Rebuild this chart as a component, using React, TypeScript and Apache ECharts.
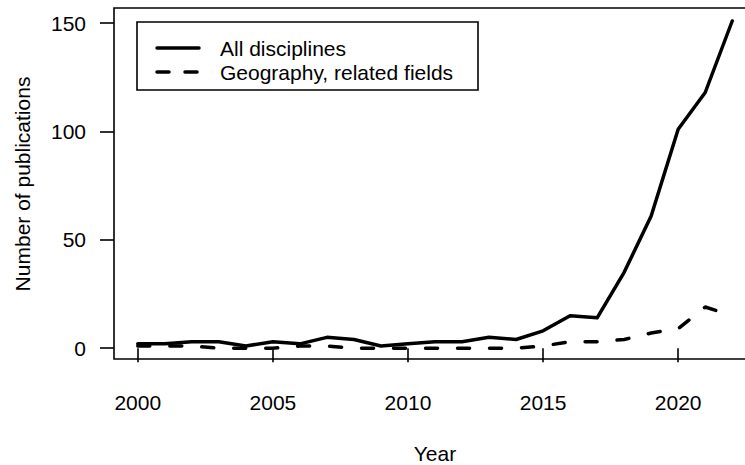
import React, { useEffect, useRef } from "react";
import * as echarts from "echarts";

const years: number[] = [2000, 2001, 2002, 2003, 2004, 2005, 2006, 2007, 2008, 2009, 2010, 2011, 2012, 2013, 2014, 2015, 2016, 2017, 2018, 2019, 2020, 2021, 2022];
const allDisciplines: number[] = [2, 2, 3, 3, 1, 3, 2, 5, 4, 1, 2, 3, 3, 5, 4, 8, 15, 14, 35, 61, 101, 118, 151];
const geography: number[] = [1, 1, 1, 0, 0, 0, 1, 1, 0, 0, 0, 0, 0, 0, 0, 1, 3, 3, 4, 7, 9, 19, 15];
const xTicks: number[] = [2000, 2005, 2010, 2015, 2020];
const yTicks: number[] = [0, 50, 100, 150];
const seriesNames: string[] = ["All disciplines", "Geography, related fields"];
const xTitle = "Year";
const yTitle = "Number of publications";

const FONT = '"Liberation Sans", Arial, Helvetica, sans-serif';
const FS = 21;

export default function App() {
  const ref = useRef<HTMLDivElement>(null);
  useEffect(() => {
    if (!ref.current) return;
    const chart = echarts.init(ref.current, null, { renderer: "svg" });
    const pair = (arr: number[]) => years.map((y, i) => [y, arr[i]]);
    chart.setOption({
      animation: false,
      backgroundColor: "#fff",
      grid: {
        show: true,
        left: 114,
        top: 8,
        width: 642,
        height: 351,
        borderColor: "#000",
        borderWidth: 1.6,
        backgroundColor: "transparent",
      },
      xAxis: {
        type: "value",
        min: 1999.12,
        max: 2022.88,
        axisLine: { show: false },
        splitLine: { show: false },
        axisTick: {
          show: true,
          length: 14,
          customValues: xTicks,
          lineStyle: { color: "#000", width: 1.6 },
        },
        axisLabel: {
          customValues: xTicks,
          margin: 33,
          color: "#000",
          fontSize: FS,
          fontFamily: FONT,
          formatter: (v: number) => String(v),
        },
      },
      yAxis: {
        type: "value",
        min: -5,
        max: 157,
        axisLine: { show: false },
        splitLine: { show: false },
        axisTick: {
          show: true,
          length: 14,
          customValues: yTicks,
          lineStyle: { color: "#000", width: 1.6 },
        },
        axisLabel: {
          customValues: yTicks,
          margin: 28,
          color: "#000",
          fontSize: FS,
          fontFamily: FONT,
          formatter: (v: number) => String(v),
        },
      },
      series: [
        {
          name: seriesNames[0],
          type: "line",
          data: pair(allDisciplines),
          showSymbol: false,
          lineStyle: { color: "#000", width: 3.5, cap: "round", join: "round" },
        },
        {
          name: seriesNames[1],
          type: "line",
          data: pair(geography),
          showSymbol: false,
          lineStyle: { color: "#000", width: 3.5, type: [12, 20], cap: "round", join: "round" },
        },
      ],
      graphic: [
        {
          type: "text",
          x: 435,
          y: 453,
          style: { text: xTitle, font: `${FS}px ${FONT}`, fill: "#000", align: "center", verticalAlign: "middle" },
        },
        {
          type: "text",
          x: 22,
          y: 184,
          rotation: Math.PI / 2,
          style: { text: yTitle, font: `${FS}px ${FONT}`, fill: "#000", align: "center", verticalAlign: "middle" },
        },
        {
          type: "rect",
          shape: { x: 137, y: 22, width: 341, height: 68 },
          style: { fill: "#fff", stroke: "#000", lineWidth: 1.6 },
        },
        {
          type: "line",
          shape: { x1: 157, y1: 48, x2: 199, y2: 48 },
          style: { stroke: "#000", lineWidth: 3.5, lineCap: "round" },
        },
        {
          type: "line",
          shape: { x1: 157, y1: 72, x2: 199, y2: 72 },
          style: { stroke: "#000", lineWidth: 3.5, lineCap: "round", lineDash: [12, 16] },
        },
        {
          type: "text",
          x: 220,
          y: 48,
          style: { text: seriesNames[0], font: `${FS}px ${FONT}`, fill: "#000", align: "left", verticalAlign: "middle" },
        },
        {
          type: "text",
          x: 220,
          y: 72,
          style: { text: seriesNames[1], font: `${FS}px ${FONT}`, fill: "#000", align: "left", verticalAlign: "middle" },
        },
      ],
    });
    return () => chart.dispose();
  }, []);
  return (
    <div
      ref={ref}
      style={{ position: "fixed", left: 0, top: 0, width: 800, height: 465, background: "#fff" }}
    />
  );
}
